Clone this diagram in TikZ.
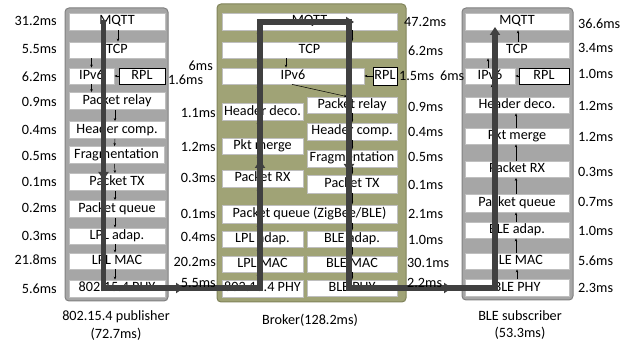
\documentclass[tikz,border=0pt]{standalone}
\usepackage{fontspec}
\setmainfont{Carlito}
\usetikzlibrary{arrows.meta}
\definecolor{panelgray}{RGB}{166,166,166}
\definecolor{panelline}{RGB}{128,128,128}
\definecolor{brokerolive}{RGB}{160,163,118}
\definecolor{brokerline}{RGB}{128,131,90}
\definecolor{boxline}{RGB}{191,191,191}
\tikzset{
  layer/.style={draw=boxline, fill=white, line width=0.8pt, inner sep=0pt,
    minimum height=17pt, text height=9pt, text depth=2.5pt},
  ctrl/.style={layer, draw=black},
  panel/.style={rounded corners=4pt, line width=1pt},
  tm/.style={inner sep=0pt},
  link/.style={-{Stealth[length=3pt,width=2.5pt]}, line width=0.5pt},
  flow/.style={line width=5.5pt, draw=black!75, -{Triangle[length=8pt,width=10pt]}},
}
\begin{document}
\begin{tikzpicture}[x=1pt,y=-1pt,font=\fontsize{14.2pt}{17pt}\selectfont]
  \useasboundingbox (0,0) rectangle (630,344);
  % panels
  \draw[panel, fill=panelgray, draw=panelline] (65,8) rectangle (168,301);
  \draw[panel, fill=brokerolive, draw=brokerline] (217,4) rectangle (406,302);
  \draw[panel, fill=panelgray, draw=panelline] (462,8) rectangle (573,300);

  % publisher stack
  \node[layer, minimum width=96pt] (pMQTT) at (117,21.5) {MQTT};
  \node[layer, minimum width=96pt, minimum height=16pt] (pTCP) at (117,50) {TCP};
  \node[layer, minimum width=45pt, minimum height=16pt] (pIPv6) at (91.5,76) {IPv6};
  \node[ctrl, minimum width=46pt, minimum height=16pt] (pRPL) at (142,76) {RPL};
  \node[layer, minimum width=96pt] (pRelay) at (117,101) {Packet relay};
  \node[layer, minimum width=96pt] (pHComp) at (117,130) {Header comp.};
  \node[layer, minimum width=95pt] (pFrag) at (116.5,155) {Fragmentation};
  \node[layer, minimum width=96pt] (pTX) at (117,182) {Packet TX};
  \node[layer, minimum width=96pt] (pQueue) at (117,209) {Packet queue};
  \node[layer, minimum width=96pt, minimum height=16pt] (pLPLAdap) at (117,236) {LPL adap.};
  \node[layer, minimum width=96pt, minimum height=16pt] (pLPLMac) at (117,261) {LPL MAC};
  \node[layer, minimum width=96pt] (pPHY) at (117,288.5) {802.15.4 PHY};

  % broker stack
  \node[layer, minimum width=175pt] (bMQTT) at (309.5,21.5) {MQTT};
  \node[layer, minimum width=175pt, minimum height=16pt] (bTCP) at (309.5,50) {TCP};
  \node[layer, minimum width=142pt, minimum height=16pt] (bIPv6) at (293,76) {IPv6};
  \node[ctrl, minimum width=24pt, minimum height=18pt] (bRPL) at (385,76) {RPL};
  \node[layer, minimum width=90pt, minimum height=16pt] (bRelay) at (352,105) {Packet relay};
  \node[layer, minimum width=81pt] (bHDeco) at (262.5,112) {Header deco.};
  \node[layer, minimum width=90pt] (bHComp) at (352,131.5) {Header comp.};
  \node[layer, minimum width=81pt, minimum height=16pt] (bMerge) at (262.5,146) {Pkt merge};
  \node[layer, minimum width=90pt] (bFrag) at (352,158.5) {Fragmentation};
  \node[layer, minimum width=81pt] (bRX) at (262.5,178.5) {Packet RX};
  \node[layer, minimum width=90pt, minimum height=18pt] (bTX) at (352,184) {Packet TX};
  \node[layer, minimum width=175pt, minimum height=18pt] (bQueue) at (309.5,214) {Packet queue (ZigBee/BLE)};
  \node[layer, minimum width=81pt, minimum height=16pt] (bLPLAdap) at (262.5,239) {LPL adap.};
  \node[layer, minimum width=90pt, minimum height=16pt] (bBLEAdap) at (352,239) {BLE adap.};
  \node[layer, minimum width=81pt, minimum height=16pt] (bLPLMac) at (262.5,264) {LPL MAC};
  \node[layer, minimum width=90pt, minimum height=16pt] (bBLEMac) at (352,264) {BLE MAC};
  \node[layer, minimum width=81pt] (bPHY) at (262.5,288.5) {802.15.4 PHY};
  \node[layer, minimum width=90pt, minimum height=16pt] (bBLEPHY) at (352,288) {BLE PHY};

  % subscriber stack
  \node[layer, minimum width=104pt] (sMQTT) at (517,21.5) {MQTT};
  \node[layer, minimum width=104pt, minimum height=16pt] (sTCP) at (517,50) {TCP};
  \node[layer, minimum width=50pt, minimum height=16pt] (sIPv6) at (490,76) {IPv6};
  \node[ctrl, minimum width=50pt, minimum height=16pt] (sRPL) at (544,76) {RPL};
  \node[layer, minimum width=104pt, minimum height=16pt] (sHDeco) at (517,105) {Header deco.};
  \node[layer, minimum width=104pt, minimum height=16pt] (sMerge) at (517,136) {Pkt merge};
  \node[layer, minimum width=104pt, minimum height=16pt] (sRX) at (517,169.5) {Packet RX};
  \node[layer, minimum width=104pt, minimum height=18pt] (sQueue) at (517,203) {Packet queue};
  \node[layer, minimum width=104pt, minimum height=16pt] (sBLEAdap) at (517,230) {BLE adap.};
  \node[layer, minimum width=104pt, minimum height=16pt] (sBLEMac) at (517,261) {BLE MAC};
  \node[layer, minimum width=104pt] (sBLEPHY) at (517,288) {BLE PHY};

  % small arrows, publisher (downwards)
  \draw[link] ([xshift=1pt]pMQTT.south) -- ([xshift=1pt]pTCP.north);
  \draw[link] (pIPv6.north |- pTCP.south) -- (pIPv6.north);
  \draw[link] (pRPL.west) -- (pIPv6.east);
  \draw[link] (pIPv6.south) -- (pIPv6.south |- pRelay.north);
  \draw[link] ([xshift=-2pt]pRelay.south) -- ([xshift=-2pt]pHComp.north);
  \draw[link] ([xshift=-2pt]pHComp.south) -- ([xshift=-2pt]pFrag.north);
  \draw[link] ([xshift=-2pt]pFrag.south) -- ([xshift=-2pt]pTX.north);
  \draw[link] ([xshift=-2pt]pTX.south) -- ([xshift=-2pt]pQueue.north);
  \draw[link] ([xshift=-2pt]pQueue.south) -- ([xshift=-2pt]pLPLAdap.north);
  \draw[link] ([xshift=-2pt]pLPLAdap.south) -- ([xshift=-2pt]pLPLMac.north);
  \draw[link] ([xshift=-2pt]pLPLMac.south) -- ([xshift=-2pt]pPHY.north);

  % small arrows, broker (up the left column, down the right one)
  \draw[link] ([xshift=-4.5pt]bPHY.north) -- ([xshift=-4.5pt]bLPLMac.south);
  \draw[link] ([xshift=-4.5pt]bLPLMac.north) -- ([xshift=-4.5pt]bLPLAdap.south);
  \draw[link] ([xshift=-4.5pt]bLPLAdap.north) -- ([xshift=-51.5pt]bQueue.south);
  \draw[link] ([xshift=-51.5pt]bQueue.north) -- ([xshift=-4.5pt]bRX.south);
  \draw[link] ([xshift=-4.5pt]bRX.north) -- ([xshift=-4.5pt]bMerge.south);
  \draw[link] ([xshift=-4.5pt]bMerge.north) -- ([xshift=-4.5pt]bHDeco.south);
  \draw[link] ([xshift=-4.5pt]bHDeco.north) -- ([xshift=-35pt]bIPv6.south);
  \draw[link] ([xshift=-35pt]bIPv6.north) -- ([xshift=-51.5pt]bTCP.south);
  \draw[link] ([xshift=-51.5pt]bTCP.north) -- ([xshift=-51.5pt]bMQTT.south);
  \draw[link] ([xshift=42.5pt]bMQTT.south) -- ([xshift=42.5pt]bTCP.north);
  \draw[link] ([xshift=-23.5pt]bTCP.south) -- ([xshift=-7pt]bIPv6.north);
  \draw[link] (bRPL.west) -- (bIPv6.east);
  \draw[link] ([xshift=-1pt]bIPv6.south) -- ([xshift=-5pt]bRelay.north);
  \draw[link] (bRelay.south) -- (bHComp.north);
  \draw[link] (bHComp.south) -- (bFrag.north);
  \draw[link] (bFrag.south) -- (bTX.north);
  \draw[link] (bTX.south) -- ([xshift=42.5pt]bQueue.north);
  \draw[link] ([xshift=42.5pt]bQueue.south) -- (bBLEAdap.north);
  \draw[link] (bBLEAdap.south) -- (bBLEMac.north);
  \draw[link] (bBLEMac.south) -- (bBLEPHY.north);

  % small arrows, subscriber (upwards)
  \draw[link] (sBLEPHY.north) -- (sBLEMac.south);
  \draw[link] ([xshift=-1pt]sBLEMac.north) -- ([xshift=-1pt]sBLEAdap.south);
  \draw[link] ([xshift=-1pt]sBLEAdap.north) -- ([xshift=-1pt]sQueue.south);
  \draw[link] ([xshift=-1pt]sQueue.north) -- ([xshift=-1pt]sRX.south);
  \draw[link] ([xshift=-1pt]sRX.north) -- ([xshift=-1pt]sMerge.south);
  \draw[link] ([xshift=-1pt]sMerge.north) -- ([xshift=-1pt]sHDeco.south);
  \draw[link] ([xshift=-25pt]sHDeco.north) -- ([xshift=2pt]sIPv6.south);
  \draw[link] ([xshift=-2pt]sIPv6.north) -- ([xshift=-29pt]sTCP.south);
  \draw[link] ([xshift=1pt]sTCP.north) -- ([xshift=1pt]sMQTT.south);
  \draw[link] (sRPL.west) -- (sIPv6.east);

  % message path
  \coordinate (pubTop) at (103.5,20);
  \coordinate (pubMid) at (103.5,180);
  \coordinate (pubLow) at (103.5,288);
  \coordinate (linkA) at (184,288);
  \coordinate (brkLow) at (260,288);
  \coordinate (brkMid) at (260,160);
  \coordinate (brkTop) at (260,22);
  \coordinate (brkTurn) at (349,22);
  \coordinate (brkTip) at (354,22);
  \coordinate (brkDown) at (349,172);
  \coordinate (brkOut) at (349,288);
  \coordinate (linkB) at (452,288);
  \coordinate (subLow) at (495,288);
  \coordinate (subTop) at (495,27);
  \draw[flow] (pubTop) -- (pubLow) -- (brkLow) -- (brkTop) -- (brkTurn) -- (brkOut) -- (subLow) -- (subTop);
  \draw[flow] (pubTop) -- (pubMid);
  \draw[flow] (pubLow) -- (linkA);
  \draw[flow] (brkLow) -- (brkMid);
  \draw[flow] (brkTop) -- (brkTip);
  \draw[flow] (brkTurn) -- (brkDown);
  \draw[flow] (brkOut) -- (linkB);

  % publisher times
  \node[tm, anchor=east] (pt1) at (57,21) {31.2ms};
  \node[tm, anchor=east] (pt2) at (57,49) {5.5ms};
  \node[tm, anchor=east] (pt3) at (57,77) {6.2ms};
  \node[tm, anchor=east] (pt4) at (57,102) {0.9ms};
  \node[tm, anchor=east] (pt5) at (57,130) {0.4ms};
  \node[tm, anchor=east] (pt6) at (57,156) {0.5ms};
  \node[tm, anchor=east] (pt7) at (57,182) {0.1ms};
  \node[tm, anchor=east] (pt8) at (57,208) {0.2ms};
  \node[tm, anchor=east] (pt9) at (57,236) {0.3ms};
  \node[tm, anchor=east] (pt10) at (57,260) {21.8ms};
  \node[tm, anchor=east] (pt11) at (57,289) {5.6ms};
  \node[tm, anchor=west] (ptRPL) at (168,80) {1.6ms};

  % broker times
  \node[tm, anchor=east] (bl1) at (213,66) {6ms};
  \node[tm, anchor=east] (bl2) at (216,113) {1.1ms};
  \node[tm, anchor=east] (bl3) at (216,147) {1.2ms};
  \node[tm, anchor=east] (bl4) at (216,178) {0.3ms};
  \node[tm, anchor=east] (bl5) at (216,214) {0.1ms};
  \node[tm, anchor=east] (bl6) at (216,237) {0.4ms};
  \node[tm, anchor=east] (bl7) at (216,262) {20.2ms};
  \node[tm, anchor=east] (bl8) at (216,283) {5.5ms};
  \node[tm, anchor=west] (br1) at (404,22) {47.2ms};
  \node[tm, anchor=west] (br2) at (408,51) {6.2ms};
  \node[tm, anchor=west] (brRPL) at (399,76) {1.5ms};
  \node[tm, anchor=west] (brIP) at (440,76) {6ms};
  \node[tm, anchor=west] (br3) at (408,107) {0.9ms};
  \node[tm, anchor=west] (br4) at (408,132) {0.4ms};
  \node[tm, anchor=west] (br5) at (408,157) {0.5ms};
  \node[tm, anchor=west] (br6) at (408,185) {0.1ms};
  \node[tm, anchor=west] (br7) at (408,214) {2.1ms};
  \node[tm, anchor=west] (br8) at (408,240) {1.0ms};
  \node[tm, anchor=west] (br9) at (407,263) {30.1ms};
  \node[tm, anchor=west] (br10) at (407,283) {2.2ms};

  % subscriber times
  \node[tm, anchor=west] (st1) at (578,24) {36.6ms};
  \node[tm, anchor=west] (st2) at (578,48) {3.4ms};
  \node[tm, anchor=west] (st3) at (578,74) {1.0ms};
  \node[tm, anchor=west] (st4) at (578,106) {1.2ms};
  \node[tm, anchor=west] (st5) at (578,137) {1.2ms};
  \node[tm, anchor=west] (st6) at (578,172) {0.3ms};
  \node[tm, anchor=west] (st7) at (578,202) {0.7ms};
  \node[tm, anchor=west] (st8) at (578,231) {1.0ms};
  \node[tm, anchor=west] (st9) at (578,261) {5.6ms};
  \node[tm, anchor=west] (st10) at (578,288) {2.3ms};

  % captions
  \node (pubName) at (116,317) {802.15.4 publisher};
  \node (pubSum) at (116,334) {(72.7ms)};
  \node (brkName) at (310,320) {Broker(128.2ms)};
  \node (subName) at (520,316) {BLE subscriber};
  \node (subSum) at (520,333) {(53.3ms)};
\end{tikzpicture}
\end{document}
